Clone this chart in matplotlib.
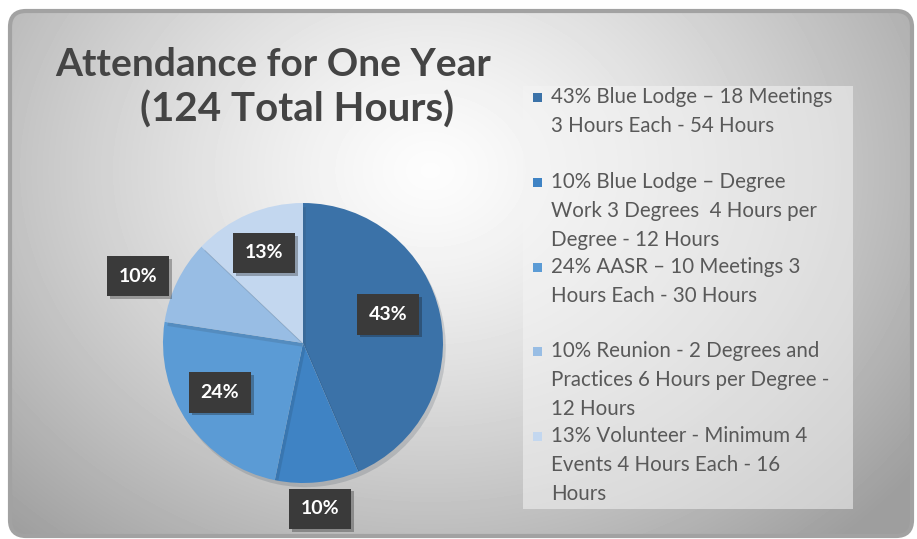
import numpy as np
import matplotlib
matplotlib.use("Agg")
import matplotlib.pyplot as plt
from matplotlib.patches import FancyBboxPatch, Rectangle
import matplotlib.patheffects as pe

# Daten
categories = [
    "43% Blue Lodge – 18 Meetings\n3 Hours Each - 54 Hours",
    "10% Blue Lodge – Degree\nWork 3 Degrees  4 Hours per\nDegree - 12 Hours",
    "24% AASR – 10 Meetings 3\nHours Each - 30 Hours",
    "10% Reunion - 2 Degrees and\nPractices 6 Hours per Degree -\n12 Hours",
    "13% Volunteer - Minimum 4\nEvents 4 Hours Each - 16\nHours",
]
hours = [54, 12, 30, 12, 16]
pct_labels = ["43%", "10%", "24%", "10%", "13%"]
title_lines = ["Attendance for One Year", "(124 Total Hours)"]

colors = ["#3b72a8", "#3f83c4", "#5b9bd5", "#98bde4", "#c3d7ef"]
label_dist = [0.64, 1.19, 0.69, 1.27, 0.70]
label_shift = [7, 0, -4, 4, 0]   # Winkelkorrektur in Grad
legend_y = [98, 183, 268, 352, 437]

W, H = 917, 539
fig = plt.figure(figsize=(W / 100, H / 100), dpi=100)
fig.patch.set_facecolor("white")

# Hintergrund mit Verlauf
bg = fig.add_axes([0, 0, 1, 1])
bg.set_xlim(0, W)
bg.set_ylim(H, 0)
bg.axis("off")

yy, xx = np.mgrid[0:H, 0:W]
d = np.sqrt(((xx - 430) / 520.0) ** 2 + ((yy - 170) / 420.0) ** 2)
val = np.clip(0.99 - 0.30 * d ** 1.3, 0.62, 1.0)
img = bg.imshow(val, cmap="gray", vmin=0, vmax=1, extent=(0, W, H, 0), zorder=0)
frame = FancyBboxPatch((10, 11), 902, 525, boxstyle="round,pad=0,rounding_size=16",
                       facecolor="none", edgecolor="#a2a2a2", linewidth=3, zorder=2)
bg.add_patch(frame)
img.set_clip_path(frame)

# Titel (zwei Zeilen, leicht versetzt wie im Original)
bg.text(273, 64, title_lines[0], ha="center", va="center", fontsize=28,
        fontweight="bold", color="#444444", family="Lato")
bg.text(297, 110, title_lines[1], ha="center", va="center", fontsize=29,
        fontweight="bold", color="#444444", family="Lato")

# Legende
bg.add_patch(Rectangle((523, 86), 330, 423, facecolor="#f4f4f4", alpha=0.55,
                       edgecolor="none", zorder=1))
for i, txt in enumerate(categories):
    bg.add_patch(Rectangle((533, legend_y[i] - 5), 9, 9, facecolor=colors[i],
                           edgecolor="none", zorder=3))
    bg.text(551, legend_y[i] - 11, txt, ha="left", va="top", fontsize=14.8,
            color="#595959", family="Lato", linespacing=1.55, zorder=3)

# Kreisdiagramm
cx, cy, r = 303, 343, 140
span = 1.3
ax = fig.add_axes([(cx - span * r) / W, (H - cy - span * r) / H,
                   2 * span * r / W, 2 * span * r / H])
ax.set_xlim(-span, span)
ax.set_ylim(-span, span)
ax.axis("off")

wedges, _ = ax.pie(hours, colors=colors, startangle=90, counterclock=False,
                   radius=1, wedgeprops=dict(edgecolor="none"))
for w in wedges:
    w.set_path_effects([pe.SimplePatchShadow(offset=(2, -3), alpha=0.15), pe.Normal()])
ax.set_xlim(-span, span)
ax.set_ylim(-span, span)

for i, w in enumerate(wedges):
    ang = np.deg2rad((w.theta1 + w.theta2) / 2 + label_shift[i])
    x = label_dist[i] * np.cos(ang)
    y = label_dist[i] * np.sin(ang)
    t = ax.text(x, y, pct_labels[i], ha="center", va="center", fontsize=14,
                fontweight="bold", color="white", family="Lato", zorder=5,
                bbox=dict(boxstyle="square,pad=0.6", facecolor="#3a3a3a",
                          edgecolor="none"))
    t.get_bbox_patch().set_path_effects([pe.SimplePatchShadow(offset=(2, -2), alpha=0.3),
                                         pe.Normal()])

fig.savefig("out.png", dpi=100, facecolor="white")
